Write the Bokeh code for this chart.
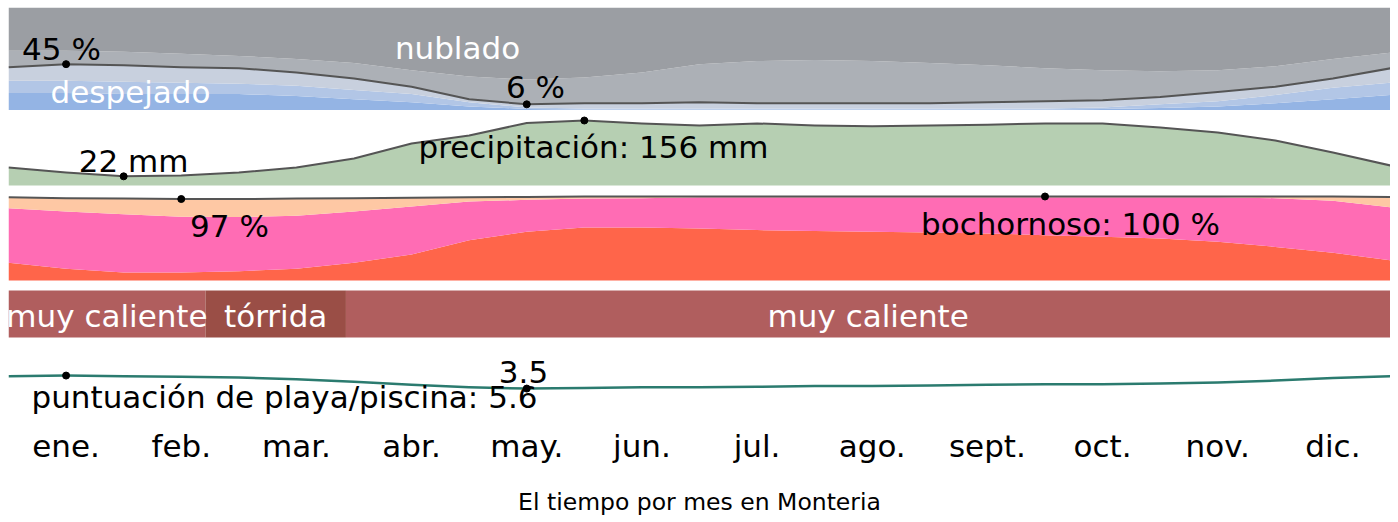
import numpy as np
from bokeh.plotting import figure
from bokeh.models import Range1d
from bokeh.layouts import column
from bokeh.embed import file_html
from bokeh.resources import INLINE
from bokeh.core.properties import value

# ---------------- data ----------------
months = ["ene.", "feb.", "mar.", "abr.", "may.", "jun.", "jul.", "ago.",
          "sept.", "oct.", "nov.", "dic."]
# samples every half month, from 1 Jan (0) to 31 Dec (12)
n_samples = 25

# cloud cover categories (% of time), bottom to top
despejado = [17, 17, 16, 16, 16, 14, 11, 8, 4, 1.5, 1, 1, 1, 1, 1, 1, 1, 1, 1, 1.5, 2.5, 4, 7, 11, 15]
mayormente_despejado = [12, 12, 12, 11, 10, 10, 9, 8, 4, 1.5, 1, 1, 1, 1, 1, 1, 1, 1, 1, 1.5, 3.5, 5, 8, 11, 12]
parcialmente_nublado = [13, 16, 16, 15, 15, 13, 11, 7, 3, 3, 5, 5, 6, 5, 5, 5, 5, 6, 7, 7, 7, 9, 8, 9, 14]
mayormente_nublado = [16, 13, 13, 13, 12, 13, 15, 16, 22, 24, 25, 30, 37, 41, 42, 41, 39, 36, 32, 29, 25, 21, 20, 19, 15]
nublado = [42, 42, 43, 45, 47, 50, 54, 61, 67, 70, 68, 63, 55, 52, 51, 52, 54, 56, 59, 61, 62, 61, 57, 50, 44]

# precipitation (mm, 31-day)
precip = [43, 31, 22, 24, 31, 43, 65, 101, 120, 150, 156, 149, 144, 149, 144, 142, 144, 146, 149, 149, 139, 127, 108, 79, 48]

# humidity comfort (% of time), bottom to top
insoportable = [21, 14, 9.5, 9.5, 11, 14, 21, 31, 48, 58, 63, 63, 62, 60, 59, 58, 57, 56, 54, 52, 50, 46, 40, 33, 24]
opresivo = [65, 68, 69.5, 66.5, 64.5, 63, 61, 57, 46, 38, 34.5, 35, 37, 39, 40, 41, 42, 43, 45, 47, 49, 53, 58, 62, 63]
bochornoso = [13, 16, 18.5, 21, 21.5, 20.5, 16, 10.5, 5, 3.5, 2.5, 2, 1, 1, 1, 1, 1, 1, 1, 1, 1, 1, 2, 5, 12.5]

# temperature categories (start / end in months)
temp_labels = ["muy caliente", "tórrida", "muy caliente"]
temp_start = [0.0, 1.71, 2.93]
temp_end = [1.71, 2.93, 12.0]

# beach / pool score
playa = [5.5, 5.6, 5.5, 5.4, 5.3, 5.0, 4.6, 4.1, 3.7, 3.5, 3.6, 3.7, 3.7, 3.8, 3.9, 3.9, 4.0, 4.1, 4.2, 4.2, 4.3, 4.5, 4.8, 5.2, 5.5]

title_text = "El tiempo por mes en Monteria"

# ---------------- drawing ----------------
LEFT = 8
FW = 1382           # frame width
FONT = value("DejaVu Sans")
FS = 31
x = np.linspace(0, 12, n_samples)
xr = Range1d(0, 12)
PXM = FW / 12.0     # pixels per month
BASE_FIX = 0.36     # em: correction of the renderer's alphabetic baseline


def px_to_month(px):
    return (px - LEFT) / PXM


def make_fig(top_px, h, y0, y1, border_top=0):
    p = figure(width=FW + LEFT, height=h + border_top, x_range=xr, y_range=Range1d(y0, y1),
               toolbar_location=None, output_backend="svg",
               x_axis_type=None, y_axis_type=None)
    p.min_border_left = LEFT
    p.min_border_right = 0
    p.min_border_top = border_top
    p.min_border_bottom = 0
    p.outline_line_color = None
    p.background_fill_color = "white"
    p.border_fill_color = "white"
    p._top_px = top_px
    p._fh = h
    return p


def page_y(p, ypx):
    r = p.y_range
    return r.end - (ypx - p._top_px) / p._fh * (r.end - r.start)


def label(p, xpx, base_px, txt, color="black", size=FS, xx=None):
    yy = page_y(p, base_px - BASE_FIX * size)
    if xx is None:
        xx = px_to_month(xpx)
    p.text(x=[xx], y=[yy], text=[txt], text_font=FONT, text_font_size=f"{size}px",
           text_color=color, text_align="center", text_baseline="alphabetic")


# --- clouds ---
f1 = make_fig(7, 103, 0, 100, border_top=7)
cloud_series = [despejado, mayormente_despejado, parcialmente_nublado,
                mayormente_nublado, nublado]
cloud_colors = ["#94b4e4", "#b2c6e6", "#c8d0de", "#acb0b6", "#9b9ea3"]
base = np.zeros(n_samples)
for s, c in zip(cloud_series, cloud_colors):
    top = base + np.array(s, dtype=float)
    f1.varea(x=x, y1=base, y2=top, fill_color=c)
    base = top
clear_line = np.array(despejado) + np.array(mayormente_despejado) + np.array(parcialmente_nublado)
f1.line(x, clear_line, line_color="#555555", line_width=2, line_join="round")
i_max = int(np.argmax(clear_line[:6]))
i_min = int(np.argmin(clear_line))
f1.scatter([x[i_max], x[i_min]], [clear_line[i_max], clear_line[i_min]], size=7, color="black")
label(f1, 61, 60, f"{clear_line[i_max]:.0f} %")
label(f1, 535, 98, f"{clear_line[i_min]:.0f} %")
label(f1, 457, 59, "nublado", color="white")
label(f1, 130, 103, "despejado", color="white")

# --- precipitation ---
f2 = make_fig(110, 76, -2.4, 180)
pr = np.array(precip, dtype=float)
f2.varea(x=x, y1=np.zeros(n_samples), y2=pr, fill_color="#b6cfb2")
f2.line(x, pr, line_color="#555555", line_width=2, line_join="round")
p_min = int(np.argmin(pr))
p_max = int(np.argmax(pr))
f2.scatter([x[p_min], x[p_max]], [pr[p_min], pr[p_max]], size=7, color="black")
label(f2, 133, 172, f"{pr[p_min]:.0f} mm")
label(f2, 593, 158, f"precipitación: {pr[p_max]:.0f} mm")

# --- humidity ---
f3 = make_fig(186, 95, -1.19, 111.9)
hum_series = [insoportable, opresivo, bochornoso]
hum_colors = ["#ff654a", "#ff6cb4", "#fec8a4"]
base = np.zeros(n_samples)
for s, c in zip(hum_series, hum_colors):
    top = base + np.array(s, dtype=float)
    f3.varea(x=x, y1=base, y2=top, fill_color=c)
    base = top
hum_line = base
f3.line(x, hum_line, line_color="#555555", line_width=2, line_join="round")
h_min = int(np.argmin(hum_line))
h_max = 18
f3.scatter([x[h_min], x[h_max]], [hum_line[h_min], hum_line[h_max]], size=7, color="black")
label(f3, 229, 237, f"{hum_line[h_min]:.0f} %")
label(f3, 1070, 235, f"bochornoso: {hum_line[h_max]:.0f} %")

# --- temperature band ---
f4 = make_fig(281, 57, 0, 57)
temp_colors = ["#b05e5e" if t == "muy caliente" else "#9a4e46" for t in temp_labels]
f4.quad(left=temp_start, right=temp_end, bottom=1, top=48, fill_color=temp_colors, line_color=None)
for t, a, b in zip(temp_labels, temp_start, temp_end):
    label(f4, None, 327, t, color="white", xx=(a + b) / 2)

# --- beach score ---
f5 = make_fig(338, 82, -1.66, 11.59)
pl = np.array(playa, dtype=float)
f5.line(x, pl, line_color="#2b7b6f", line_width=2.5, line_join="round")
b_max = int(np.argmax(pl))
b_min = int(np.argmin(pl))
f5.scatter([x[b_max], x[b_min]], [pl[b_max], pl[b_min]], size=7, color="black")
label(f5, 284, 408, f"puntuación de playa/piscina: {pl[b_max]:.1f}")
label(f5, 523, 383, f"{pl[b_min]:.1f}")

# --- month labels ---
f6 = make_fig(420, 46, 0, 46)
f6.text(x=np.arange(12) + 0.5, y=[page_y(f6, 457 - BASE_FIX * FS)] * 12, text=months,
        text_font=FONT, text_font_size=f"{FS}px", text_color="black",
        text_align="center", text_baseline="alphabetic")

# --- title ---
f7 = make_fig(466, 54, 0, 54)
label(f7, None, 510, title_text, size=23.5, xx=6.0)

layout = column(f1, f2, f3, f4, f5, f6, f7, spacing=0)
open("out.html", "w").write(file_html(layout, INLINE))
